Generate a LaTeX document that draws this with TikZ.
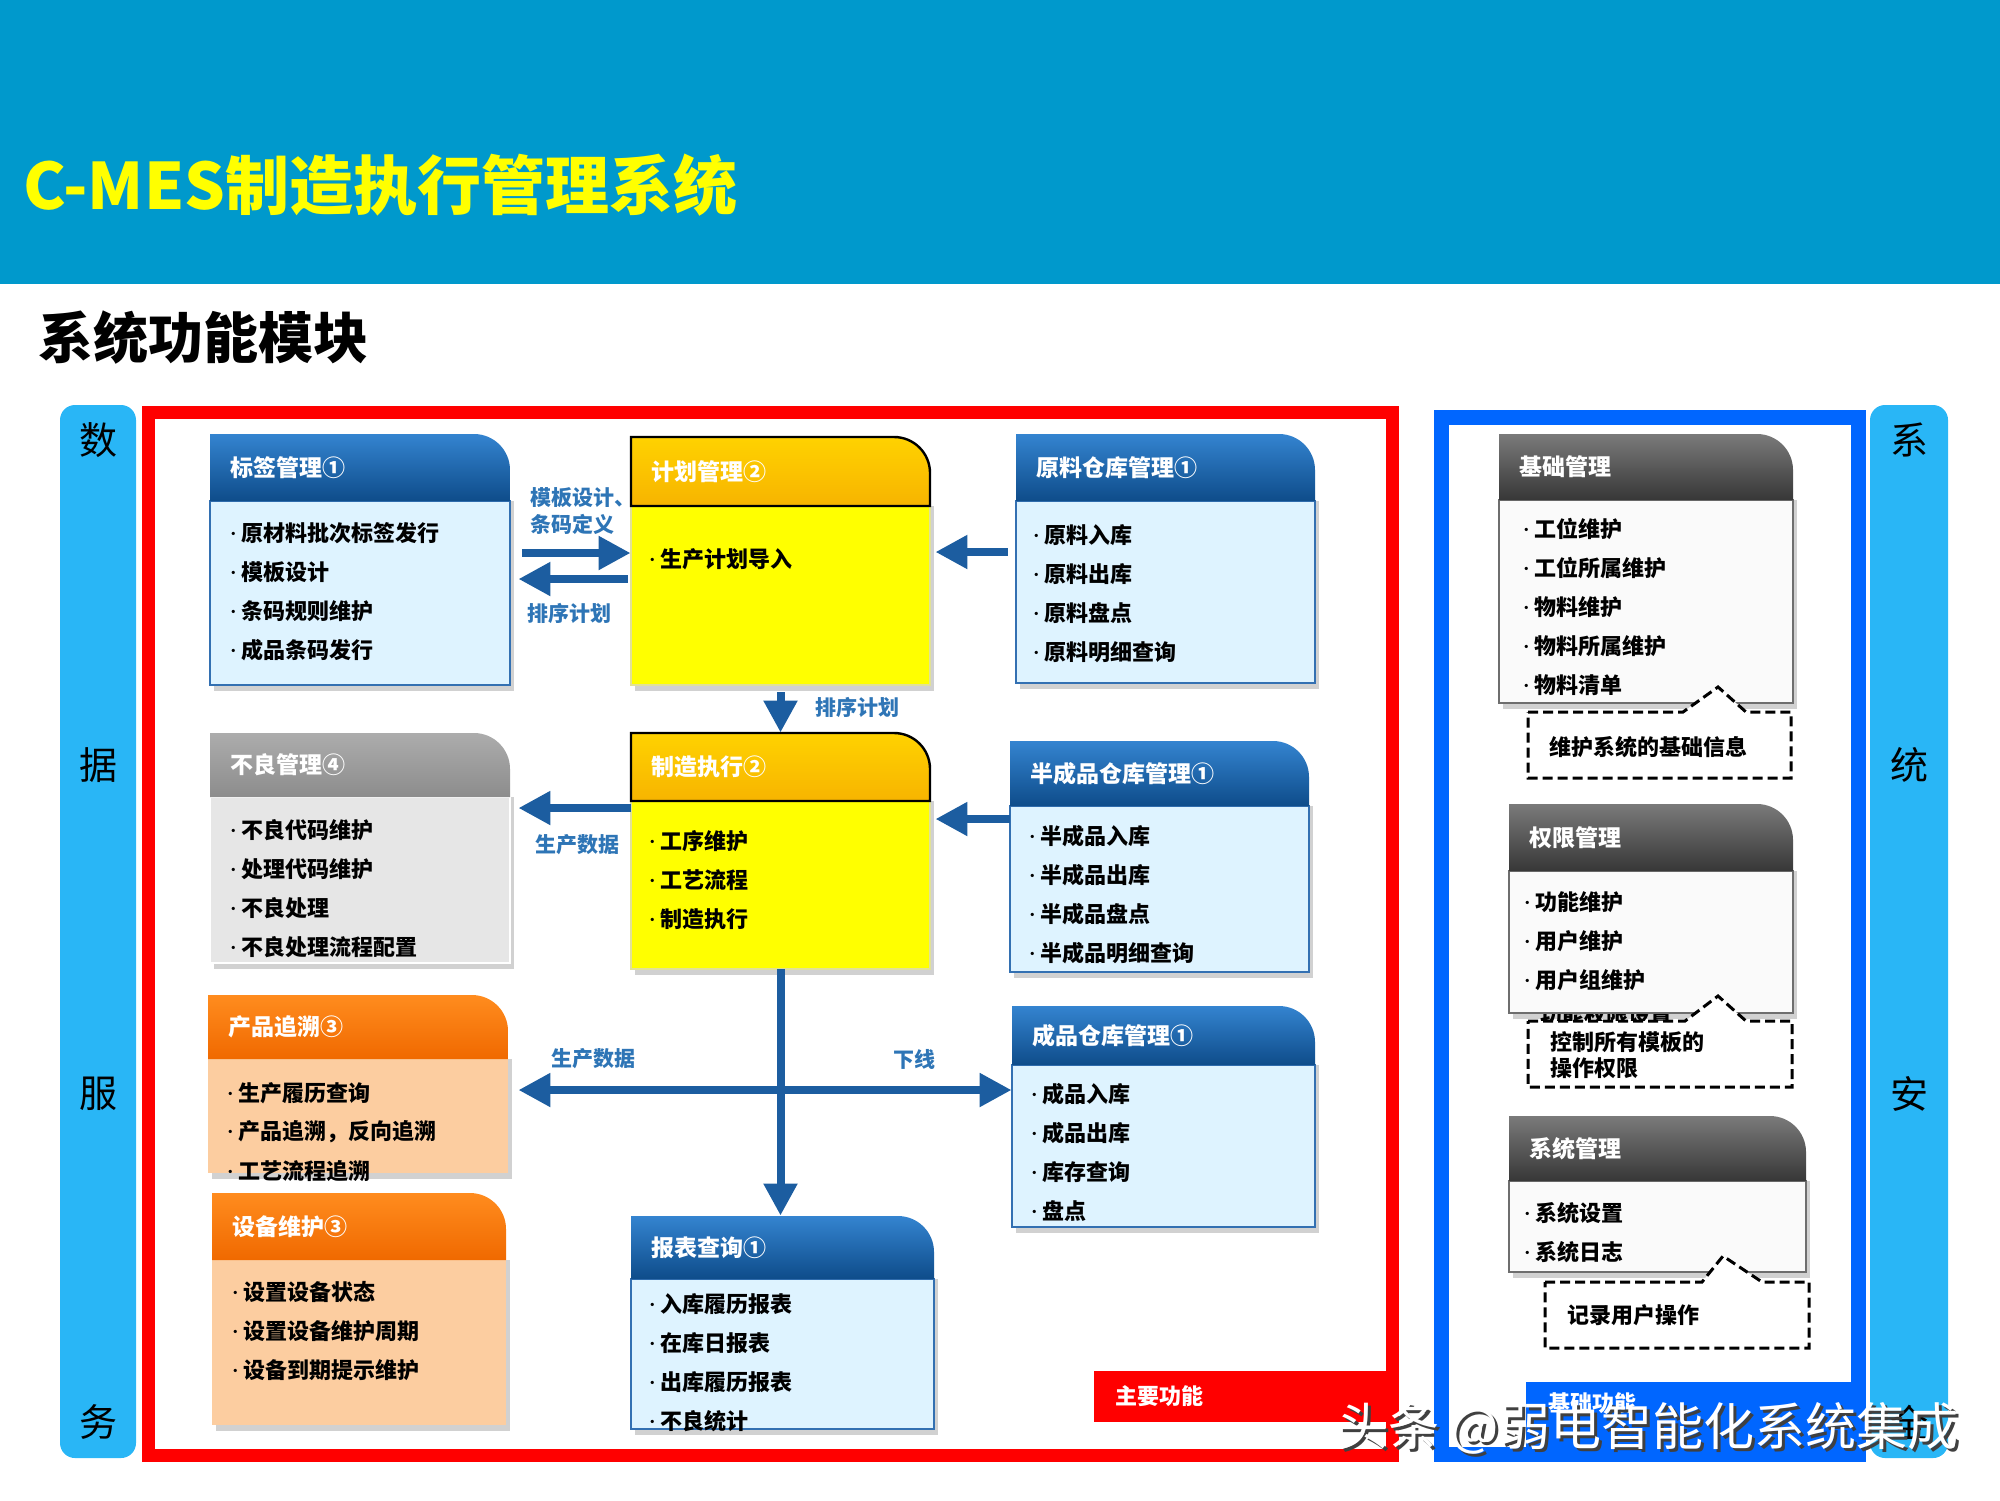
\documentclass[tikz,border=0pt]{standalone}
\usepackage{fontspec}
\setmainfont{Noto Sans CJK SC}
\usepackage{tikz}
\usetikzlibrary{arrows.meta,fit,calc}

\definecolor{headbar}{RGB}{0,153,204}
\definecolor{titleyel}{RGB}{255,255,0}
\definecolor{mainred}{RGB}{255,0,0}
\definecolor{basicblue}{RGB}{0,102,255}
\definecolor{sidebar}{RGB}{41,182,246}
\definecolor{flowblue}{RGB}{28,93,160}
\definecolor{labelblue}{RGB}{46,117,182}
\definecolor{bluehdtop}{RGB}{52,132,208}
\definecolor{bluehdbot}{RGB}{14,76,138}
\definecolor{bluebody}{RGB}{222,243,255}
\definecolor{blueedge}{RGB}{51,112,178}
\definecolor{goldtop}{RGB}{255,210,0}
\definecolor{goldbot}{RGB}{247,180,0}
\definecolor{goldbody}{RGB}{255,255,0}
\definecolor{goldedge}{RGB}{225,225,150}
\definecolor{graytop}{RGB}{172,172,172}
\definecolor{graybot}{RGB}{140,140,140}
\definecolor{graybody}{RGB}{230,230,230}
\definecolor{orangetop}{RGB}{255,140,30}
\definecolor{orangebot}{RGB}{240,105,0}
\definecolor{orangebody}{RGB}{252,205,160}
\definecolor{darktop}{RGB}{122,122,122}
\definecolor{darkbot}{RGB}{55,55,55}
\definecolor{darkbody}{RGB}{250,250,250}
\definecolor{darkedge}{RGB}{110,110,110}

\tikzset{
  boxshadow/.style={fill=black, opacity=.18},
  blue head/.style={top color=bluehdtop, bottom color=bluehdbot},
  blue body/.style={fill=bluebody, draw=blueedge, line width=1.2pt},
  gold head/.style={top color=goldtop, bottom color=goldbot, draw=black, line width=1.2pt},
  gold body/.style={fill=goldbody, draw=goldedge, line width=.8pt},
  gray head/.style={top color=graytop, bottom color=graybot},
  gray body/.style={fill=graybody, draw=white, line width=1pt},
  orange head/.style={top color=orangetop, bottom color=orangebot},
  orange body/.style={fill=orangebody},
  dark head/.style={top color=darktop, bottom color=darkbot},
  dark body/.style={fill=darkbody, draw=darkedge, line width=1.2pt},
  modtitle/.style={text=white, font=\bfseries\fontsize{11.5}{14}\selectfont},
  moditem/.style={font=\bfseries\fontsize{11}{13}\selectfont},
  flowlabel/.style={text=labelblue, font=\bfseries\fontsize{10.5}{13.5}\selectfont, align=left},
  flow/.style={draw=flowblue, line width=4pt, -{Triangle[length=16pt,width=16pt]}},
  callout/.style={draw=black, fill=white, line width=1.5pt, dash pattern=on 5pt off 2.5pt},
  sidechar/.style={font=\fontsize{19}{22}\selectfont},
}

% small bullet dot in front of each line
\newcommand{\bdot}{\makebox[5pt][l]{\kern-2pt\fontsize{6}{6}\selectfont\raisebox{1.5pt}{·}}}

% one module: header with rounded corner, body, shadow and title
\newcommand{\modbox}[8]{%
  % #1 name, #2 scheme, #3 left, #4 top, #5 right, #6 header bottom, #7 bottom, #8 title
  \fill[boxshadow] (#3+4,#6) rectangle (#5+4,#7+6);
  \path[#2 body] (#3,#6) rectangle (#5,#7);
  \path[#2 head] (#3,#6) -- (#3,#4) -- (#5-36,#4)
    arc[start angle=-90, end angle=0, radius=36] -- (#5,#6) -- cycle;
  \coordinate (#1-nw) at (#3,#4);
  \coordinate (#1-se) at (#5,#7);
  \node[fit=(#1-nw)(#1-se)] (#1) {};
  \node[modtitle, anchor=west] (#1-title) at (#3+20,{(#4+#6)/2}) {#8};
}
% bullet lines of a module
\newcommand{\moditems}[4]{%
  % #1 name, #2 bullet x, #3 first line y, #4 lines
  \foreach \itm [count=\i from 0] in {#4}
    \node[moditem, anchor=west] (#1-item\i) at (#2,#3+39*\i) {\bdot\itm};
}

\begin{document}
\begin{tikzpicture}[x=0.5pt, y=-0.5pt, every node/.style={inner sep=0pt}]
  \useasboundingbox (0,0) rectangle (2000,1500);

  % Header
  \fill[headbar] (0,0) rectangle (2000,284);
  \node[anchor=west, text=titleyel, font=\bfseries\fontsize{32}{38}\selectfont] (title) at (23,185) {C-MES制造执行管理系统};
  \node[anchor=west, font=\bfseries\fontsize{27.5}{33}\selectfont] (subtitle) at (38,338) {系统功能模块};

  % Side bars
  \fill[sidebar, rounded corners=7.5pt] (60,405) rectangle (136,1458);
  \fill[sidebar, rounded corners=7.5pt] (1870,405) rectangle (1948,1458);
  \foreach \ch/\yy [count=\k] in {数/440,据/765,服/1094,务/1422}
    \node[sidechar] (left\k) at (98,\yy) {\ch};
  \foreach \ch/\yy [count=\k] in {系/440,统/765,安/1094,全/1422}
    \node[sidechar] (right\k) at (1909,\yy) {\ch};

  % Frames
  \draw[mainred, line width=6.5pt] (148,412) rectangle (1392.5,1455);
  \fill[mainred] (1094,1371) rectangle (1399,1422);
  \node[anchor=west, text=white, font=\bfseries\fontsize{11}{13}\selectfont] (mainlab) at (1115,1396) {主要功能};
  \draw[basicblue, line width=7.5pt] (1441.5,417.5) rectangle (1858.5,1454.5);
  \fill[basicblue] (1526,1382) rectangle (1866,1462);
  \node[anchor=west, text=white, font=\bfseries\fontsize{11}{13}\selectfont] (basiclab) at (1548,1403) {基础功能};

  % Main modules
  \modbox{bq}{blue}{210}{434}{510}{501}{685}{标签管理①}
  \moditems{bq}{231}{533}{原材料批次标签发行,模板设计,条码规则维护,成品条码发行}
  \modbox{jh}{gold}{631}{437}{930}{506}{685}{计划管理②}
  \moditems{jh}{650}{559}{生产计划导入}
  \modbox{yl}{blue}{1016}{434}{1315}{501}{683}{原料仓库管理①}
  \moditems{yl}{1034}{535}{原料入库,原料出库,原料盘点,原料明细查询}
  \modbox{bl}{gray}{210}{733}{510}{797}{963}{不良管理④}
  \moditems{bl}{231}{830}{不良代码维护,处理代码维护,不良处理,不良处理流程配置}
  \modbox{zz}{gold}{631}{733}{930}{801}{969}{制造执行②}
  \moditems{zz}{650}{841}{工序维护,工艺流程,制造执行}
  \modbox{bcp}{blue}{1010}{741}{1309}{806}{972}{半成品仓库管理①}
  \moditems{bcp}{1030}{836}{半成品入库,半成品出库,半成品盘点,半成品明细查询}
  \modbox{zs}{orange}{208}{995}{508}{1059}{1173}{产品追溯③}
  \moditems{zs}{228}{1093}{生产履历查询,产品追溯，反向追溯,工艺流程追溯}
  \modbox{sb}{orange}{212}{1193}{506}{1260}{1425}{设备维护③}
  \moditems{sb}{233}{1292}{设置设备状态,设置设备维护周期,设备到期提示维护}
  \modbox{bb}{blue}{631}{1216}{934}{1279}{1429}{报表查询①}
  \moditems{bb}{650}{1304}{入库履历报表,在库日报表,出库履历报表,不良统计}
  \modbox{cp}{blue}{1012}{1006}{1315}{1065}{1227}{成品仓库管理①}
  \moditems{cp}{1032}{1094}{成品入库,成品出库,库存查询,盘点}

  % Flows
  \draw[flow] ([xshift=6pt]bq.east |- 0,553) -- (jh.west |- 0,553);
  \draw[flow] ([xshift=-1.5pt]jh.west |- 0,579) -- ([xshift=4pt]bq.east |- 0,579);
  \draw[flow] ([xshift=-4pt]yl.west |- 0,552) -- ([xshift=2.5pt]jh.east |- 0,552);
  \draw[flow] ([yshift=-3.5pt]jh.south) -- (zz.north);
  \draw[flow] (zz.west |- 0,808) -- ([xshift=4pt]bl.east |- 0,808);
  \draw[flow] (bcp.west |- 0,819) -- ([xshift=2.5pt]zz.east |- 0,819);
  \coordinate (cross) at (zz.south |- 0,1090);
  \draw[flow] (zz.south) -- (zz.south |- bb.north);
  \draw[flow] (cross) -- ([xshift=5pt]zs.east |- cross);
  \draw[flow] (cross) -- (cp.west |- cross);
  \node[flowlabel, anchor=west] (lb1) at (530,511.5) {模板设计、\\条码定义};
  \node[flowlabel, anchor=west] (lb2) at (527,613) {排序计划};
  \node[flowlabel, anchor=west] (lb3) at (815,707) {排序计划};
  \node[flowlabel, anchor=west] (lb4) at (535,845) {生产数据};
  \node[flowlabel, anchor=west] (lb5) at (551,1059) {生产数据};
  \node[flowlabel, anchor=west] (lb6) at (893,1059) {下线};

  % Basic modules
  \node[moditem, anchor=west] (hidden) at (1540,1015) {功能权限设置};
  \modbox{jc}{dark}{1499}{434}{1793}{500}{703}{基础管理}
  \moditems{jc}{1524}{529}{工位维护,工位所属维护,物料维护,物料所属维护,物料清单}
  \modbox{qx}{dark}{1509}{804}{1793}{871}{1013}{权限管理}
  \moditems{qx}{1525}{902}{功能维护,用户维护,用户组维护}
  \modbox{xt}{dark}{1509}{1116}{1806}{1181}{1272}{系统管理}
  \moditems{xt}{1525}{1213}{系统设置,系统日志}

  % Callouts
  \draw[callout] (1528,712) -- (1683,712) -- (1718,687) -- (1746,712) -- (1791,712) -- (1791,778) -- (1528,778) -- cycle;
  \node[moditem, anchor=west] (note1) at (1549,747) {维护系统的基础信息};
  \draw[callout] (1528,1021) -- (1685,1021) -- (1718,996) -- (1746,1021) -- (1792,1021) -- (1792,1087) -- (1528,1087) -- cycle;
  \node[moditem, anchor=west, align=left, font=\bfseries\fontsize{11}{13}\selectfont] (note2) at (1550,1055) {控制所有模板的\\操作权限};
  \draw[callout] (1545,1282) -- (1702,1282) -- (1723,1256) -- (1762,1282) -- (1809,1282) -- (1809,1348) -- (1545,1348) -- cycle;
  \node[moditem, anchor=west] (note3) at (1567,1315) {记录用户操作};

  % Watermark
  \node[anchor=west, text=black!75, font=\fontsize{25.5}{30}\selectfont] (wmshadow) at (1340,1431) {头条 @弱电智能化系统集成};
  \node[anchor=west, text=white, font=\fontsize{25.5}{30}\selectfont] (watermark) at (1337,1428) {头条 @弱电智能化系统集成};
\end{tikzpicture}
\end{document}
